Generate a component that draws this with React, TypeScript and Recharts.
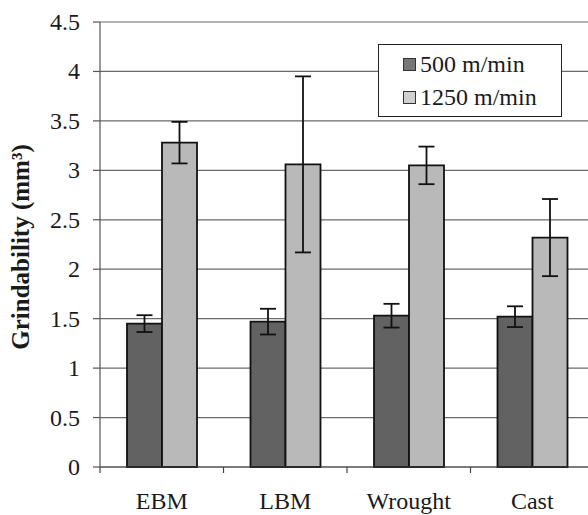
import React from 'react';
import {
  BarChart,
  Bar,
  XAxis,
  YAxis,
  CartesianGrid,
  ErrorBar,
} from 'recharts';

const categories = ['EBM', 'LBM', 'Wrought', 'Cast'];
const speed500 = [1.45, 1.47, 1.53, 1.52];
const err500 = [0.085, 0.13, 0.12, 0.105];
const speed1250 = [3.28, 3.06, 3.05, 2.32];
const err1250 = [0.21, 0.89, 0.19, 0.39];
const seriesNames = ['500 m/min', '1250 m/min'];
const yTicks = [0, 0.5, 1, 1.5, 2, 2.5, 3, 3.5, 4, 4.5];

const DARK = '#626262';
const LIGHT = '#b9b9b9';
const FONT = "'Liberation Serif', 'Times New Roman', serif";

const data = categories.map((c, i) => ({
  name: c,
  v500: speed500[i],
  e500: err500[i],
  v1250: speed1250[i],
  e1250: err1250[i],
}));

// category label plus a small tick mark at the left edge of each band
const XTick = (props: any) => {
  const { x, y, payload } = props;
  const half = payload && payload.offset ? payload.offset : 61.75;
  const left = x - half;
  return (
    <g>
      <line x1={left} y1={y - 7} x2={left} y2={y - 1} stroke="#444" strokeWidth={1.2} />
      <text x={x} y={y + 35} textAnchor="middle" style={{ fontFamily: FONT }} fontSize={24} fill="#1a1a1a">
        {payload.value}
      </text>
    </g>
  );
};

const YTick = (props: any) => {
  const { x, y, payload } = props;
  return (
    <text x={x} y={y} dy={8} textAnchor="end" style={{ fontFamily: FONT }} fontSize={24} fill="#1a1a1a">
      {payload.value}
    </text>
  );
};

const YLabel = () => (
  <text
    x={29}
    y={247}
    transform="rotate(-90 29 247)"
    textAnchor="middle"
    style={{ fontFamily: FONT }}
    fontSize={25}
    fontWeight="bold"
    fill="#1a1a1a"
  >
    Grindability (mm³)
  </text>
);

const Legend = () => (
  <div
    style={{
      position: 'absolute',
      left: 378,
      top: 44,
      width: 184,
      height: 73,
      border: '1.5px solid #222',
      background: '#fff',
      fontFamily: FONT,
      fontSize: 24,
      color: '#1a1a1a',
      boxSizing: 'border-box',
      paddingLeft: 24,
      paddingTop: 3,
    }}
  >
    {seriesNames.map((n, i) => (
      <div key={n} style={{ display: 'flex', alignItems: 'center', height: 33 }}>
        <span
          style={{
            display: 'inline-block',
            width: 11,
            height: 11,
            border: '1.5px solid #333',
            background: i === 0 ? '#777' : '#d0d0d0',
            marginRight: 4,
          }}
        />
        <span>{n}</span>
      </div>
    ))}
  </div>
);

export default function App() {
  return (
    <div
      style={{
        position: 'absolute',
        left: 0,
        top: 0,
        width: 588,
        height: 515,
        overflow: 'hidden',
        background: '#fff',
      }}
    >
      <BarChart
        width={620}
        height={515}
        data={data}
        margin={{ top: 22, right: 26, bottom: 18, left: 40 }}
        barGap={0}
      >
        <CartesianGrid vertical={false} stroke="#6a6a6a" strokeWidth={1.2} />
        <XAxis
          dataKey="name"
          height={30}
          tickSize={7}
          tickMargin={0}
          tickLine={false}
          axisLine={{ stroke: '#444', strokeWidth: 1.2 }}
          tick={<XTick />}
          interval={0}
        />
        <YAxis
          width={60}
          domain={[0, 4.5]}
          ticks={yTicks}
          interval={0}
          tickSize={7}
          tickMargin={13}
          axisLine={{ stroke: '#555', strokeWidth: 1.2 }}
          tickLine={{ stroke: '#555', strokeWidth: 1.2 }}
          tick={<YTick />}
          label={{ content: () => <YLabel /> }}
        />
        <Bar dataKey="v500" name={seriesNames[0]} fill={DARK} stroke="#111" strokeWidth={1.8} barSize={35} isAnimationActive={false}>
          <ErrorBar dataKey="e500" width={8} stroke="#111" strokeWidth={1.8} direction="y" />
        </Bar>
        <Bar dataKey="v1250" name={seriesNames[1]} fill={LIGHT} stroke="#111" strokeWidth={1.8} barSize={35} isAnimationActive={false}>
          <ErrorBar dataKey="e1250" width={8} stroke="#111" strokeWidth={1.8} direction="y" />
        </Bar>
      </BarChart>
      <Legend />
    </div>
  );
}
